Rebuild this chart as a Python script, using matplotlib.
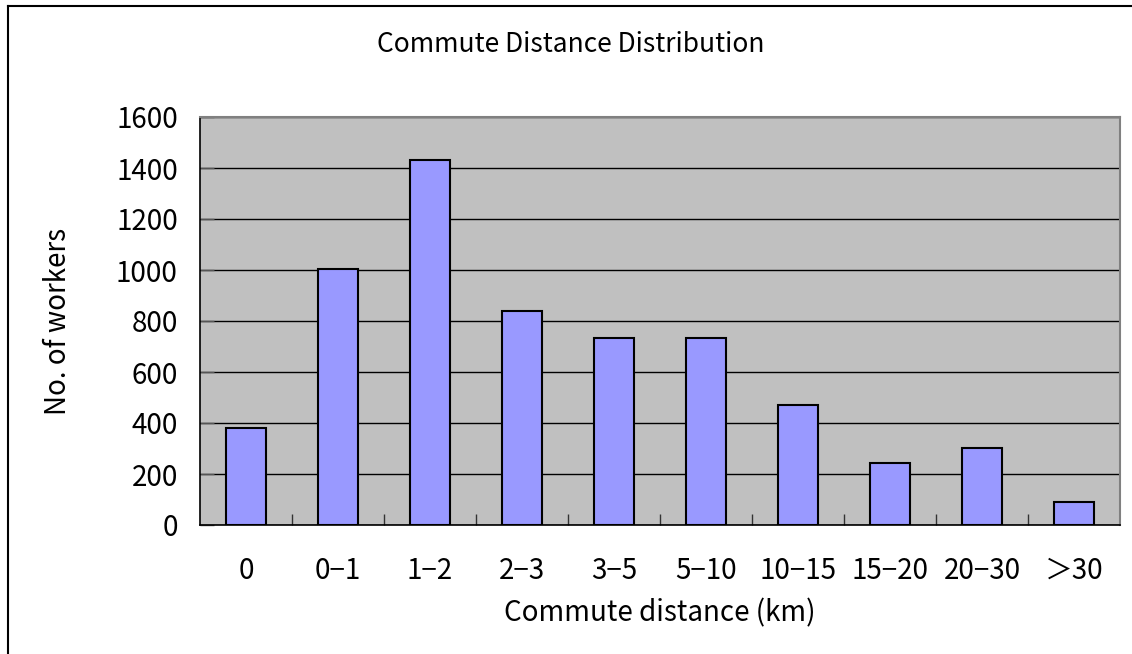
import matplotlib

matplotlib.use("Agg")
import matplotlib.pyplot as plt
from matplotlib.lines import Line2D
import numpy as np

plt.rcParams["font.family"] = ["Noto Sans CJK JP", "DejaVu Sans"]

categories = ["0", "0\u22121", "1\u22122", "2\u22123", "3\u22125", "5\u221210",
              "10\u221215", "15\u221220", "20\u221230", "\uff1e30"]
workers = [380, 1005, 1430, 840, 735, 735, 470, 243, 303, 91]
y_ticks = [0, 200, 400, 600, 800, 1000, 1200, 1400, 1600]

FS = 20

fig = plt.figure(figsize=(11.32, 6.54), dpi=100)
ax = fig.add_axes([200 / 1132, 129 / 654, 920 / 1132, 408 / 654])
ax.set_facecolor("#C0C0C0")

x = np.arange(len(categories))
ax.bar(x, workers, width=0.435, color="#9999FF", edgecolor="black",
       linewidth=1.5, zorder=3)

ax.set_xlim(-0.5, len(categories) - 0.5)
ax.set_ylim(0, 1600)
ax.set_yticks(y_ticks)
ax.set_yticklabels([str(v) for v in y_ticks], fontsize=FS)
ax.grid(axis="y", color="black", lw=1, zorder=1)
ax.set_axisbelow(True)

ax.set_xticks(x)
ax.set_xticklabels(categories, fontsize=FS)
ax.tick_params(axis="x", which="major", length=0, pad=22)
ax.set_xticks(np.arange(0.5, len(categories) - 1, 1.0), minor=True)
ax.tick_params(axis="x", which="minor", direction="in", length=8,
               width=1, color="#333333")
ax.tick_params(axis="y", direction="in", length=10, width=1,
               color="#555555", pad=16)

for side in ("left", "bottom"):
    ax.spines[side].set_color("black")
    ax.spines[side].set_linewidth(1.2)
for side in ("top", "right"):
    ax.spines[side].set_color("#808080")
    ax.spines[side].set_linewidth(1.5)

ax.set_xlabel("Commute distance (km)", fontsize=FS, labelpad=9)
ax.set_ylabel("No. of workers", fontsize=FS, labelpad=31)
fig.text(571 / 1132, 1 - 45 / 654, "Commute Distance Distribution",
         ha="center", va="center", fontsize=19)

# chart area border (cropped on right and bottom)
fig.add_artist(Line2D([7.5 / 1132, 1.0], [1 - 5.5 / 654] * 2,
                      color="black", lw=1.5))
fig.add_artist(Line2D([7.5 / 1132] * 2, [0.0, 1 - 5.5 / 654],
                      color="black", lw=1.5))

fig.savefig("out.png", dpi=100)
